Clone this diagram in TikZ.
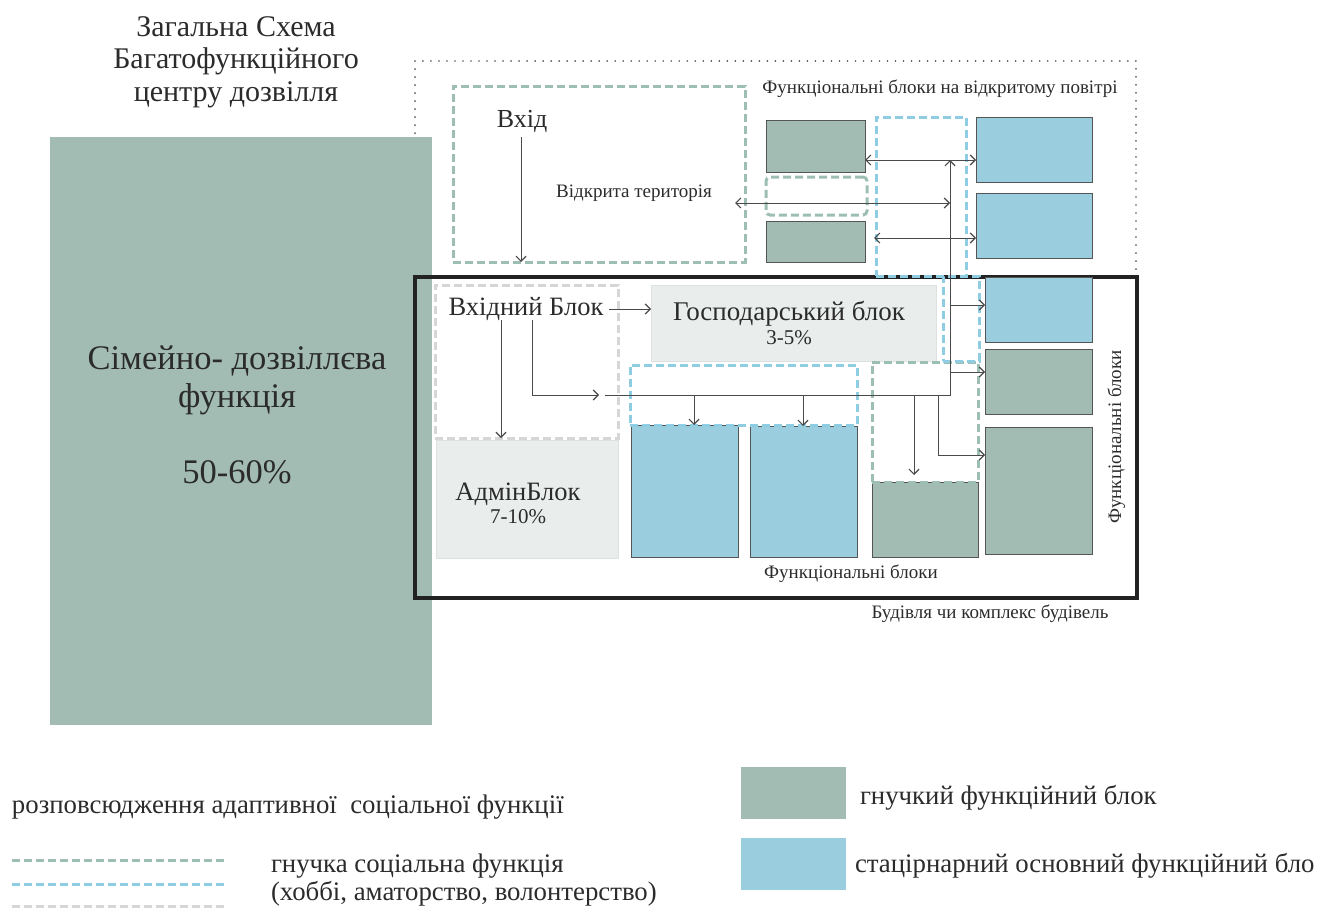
\documentclass[tikz,border=0pt]{standalone}
\usepackage{fontspec}
\setmainfont{Liberation Serif}
\usetikzlibrary{arrows.meta,calc}
\definecolor{gfill}{HTML}{A2BCB4}
\definecolor{bfill}{HTML}{9ACDDE}
\definecolor{lfill}{HTML}{E9EEEC}
\definecolor{lline}{HTML}{DDE2E0}
\definecolor{gdash}{HTML}{9DBFB3}
\definecolor{bdash}{HTML}{8ECDE2}
\definecolor{ldash}{HTML}{D6D6D6}
\definecolor{edge}{HTML}{555555}
\definecolor{dotc}{HTML}{555555}
\definecolor{bldc}{HTML}{222222}
\definecolor{txt}{HTML}{2B2B2B}
\definecolor{arrc}{HTML}{4A4A4A}
\newcommand\pxbox[6]{\node[#6, minimum width={(#4)-(#2)}, minimum height={(#5)-(#3)}] (#1) at ({((#2)+(#4))/2},{((#3)+(#5))/2}) {};}
\tikzset{
 bx/.style={rectangle, inner sep=0pt, outer sep=0pt},
 gblk/.style={bx, fill=gfill, draw=edge, line width=0.8pt},
 bblk/.style={bx, fill=bfill, draw=edge, line width=0.8pt},
 lblk/.style={bx, fill=lfill, draw=lline, line width=1pt},
 gdsh/.style={bx, draw=gdash, line width=3pt, dash pattern=on 8pt off 4pt},
 bdsh/.style={bx, draw=bdash, line width=3pt, dash pattern=on 8pt off 4pt},
 ldsh/.style={bx, draw=ldash, line width=3pt, dash pattern=on 8pt off 4pt},
 dotbox/.style={bx, draw=dotc, line width=1.8pt, dash pattern=on 0.01pt off 8pt, line cap=round},
 bldg/.style={bx, draw=bldc, line width=4.5pt},
 lbl/.style={inner sep=0pt, outer sep=0pt, text=txt, anchor=base},
 lblw/.style={lbl, anchor=base west},
 arr/.style={draw=arrc, line width=1pt, -{Straight Barb[length=5pt,width=10pt,line width=1.2pt]}},
 darr/.style={draw=arrc, line width=1pt, {Straight Barb[length=5pt,width=10pt,line width=1.2pt]}-{Straight Barb[length=5pt,width=10pt,line width=1.2pt]}},
 lgline/.style={line width=3pt, dash pattern=on 8pt off 4pt}
}
\begin{document}
\begin{tikzpicture}[x=1pt,y=-1pt]
\useasboundingbox (0,0) rectangle (1317,908);
% outer dotted area
\pxbox{outer}{415}{61}{1136}{277}{dotbox}
% big green block
\pxbox{fam}{50}{137}{432}{725}{bx, fill=gfill}
\node[lbl, align=center, font=\fontsize{30}{32.5}\selectfont] (title) at (236,101) {Загальна Схема\\Багатофункційного\\центру дозвілля};
\node[lbl, align=center, font=\fontsize{34.5}{38}\selectfont] (famtxt) at (237,483) {Сімейно- дозвіллєва\\функція\\[38pt]50-60\%};
% entrance / open territory
\pxbox{entr}{453}{86}{745}{262}{gdsh}
\node[lbl, font=\fontsize{26}{30}\selectfont] (vhid) at (522,127) {Вхід};
\node[lbl, font=\fontsize{19}{22}\selectfont] (otkr) at (634,197) {Відкрита територія};
\node[lbl, font=\fontsize{19}{22}\selectfont] (opnair) at (940,93) {Функціональні блоки на відкритому повітрі};
% outdoor blocks
\pxbox{g1}{766}{120}{865}{172}{gblk}
\pxbox{gd1}{766}{177}{867}{215}{gdsh, rounded corners=4pt}
\pxbox{g2}{766}{221}{865}{262}{gblk}
\pxbox{b1}{976}{117}{1092}{182}{bblk}
\pxbox{b2}{976}{193}{1092}{258}{bblk}
% building
\pxbox{bldg}{415}{277}{1137}{598}{bldg}
\node[lbl, font=\fontsize{19}{22}\selectfont] (bud) at (990,618) {Будівля чи комплекс будівель};
% inner blocks
\pxbox{vbox}{435}{285}{618}{438}{ldsh}
\node[lbl, font=\fontsize{26.5}{30}\selectfont] (vb) at (526,315) {Вхідний Блок};
\pxbox{gosp}{651}{285}{936}{361}{lblk}
\node[lbl, font=\fontsize{27}{30}\selectfont] (gosptxt) at (789,320) {Господарський блок};
\node[lbl, font=\fontsize{21}{24}\selectfont] (gosppct) at (789,344) {3-5\%};
\pxbox{admin}{436}{440}{618}{558}{lblk}
\node[lbl, font=\fontsize{26.5}{30}\selectfont] (admtxt) at (518,500) {АдмінБлок};
\node[lbl, font=\fontsize{21}{24}\selectfont] (admpct) at (518,523) {7-10\%};
\pxbox{bl1}{631}{425}{738}{557}{bblk}
\pxbox{bl2}{750}{426}{857}{557}{bblk}
\pxbox{bd2}{630}{365}{857}{425}{bdsh}
\pxbox{gb}{872}{482}{978}{557}{gblk}
\pxbox{gd2}{872}{362}{978}{482}{gdsh}
\pxbox{r1}{985}{277}{1092}{342}{bblk}
\pxbox{r2}{985}{349}{1092}{414}{gblk}
\pxbox{r3}{985}{427}{1092}{554}{gblk}
\pxbox{bd1}{876}{117}{966}{276}{bdsh}
\pxbox{bd3}{943}{276}{979}{361}{bdsh}
\node[lbl, font=\fontsize{19}{22}\selectfont] (fb) at (851,578) {Функціональні блоки};
\node[lbl, rotate=90, font=\fontsize{19}{22}\selectfont] (fbv) at (1121,437) {Функціональні блоки};
% connectors
\coordinate (p1) at (521,137);
\draw[arr] (p1) -- (p1 |- entr.south);
\coordinate (v1) at (609,309);
\draw[arr] (v1) -- (v1 -| gosp.west);
\coordinate (v2) at (501,320);
\draw[arr] (v2) -- (v2 |- vbox.south);
\coordinate (v3) at (532,320);
\coordinate (v4) at (599,395);
\draw[arr] (v3) |- (v4);
\coordinate (bs) at (605,395);
\coordinate (be) at (950,395);
\coordinate (ya) at (0,160);
\coordinate (yb) at (0,203);
\coordinate (yc) at (0,238);
\draw[arr] (bs) -- (be) -- (be |- ya);
\draw[darr] (g1.east |- ya) -- (b1.west |- ya);
\draw[darr] ($(entr.east |- yb)+(-10,0)$) -- (be |- yb);
\draw[darr] ($(bd1.west |- yc)+(-2,0)$) -- (b2.west |- yc);
\coordinate (d1) at (694,395);
\coordinate (d2) at (803,395);
\coordinate (d3) at (914,395);
\coordinate (d4) at (938,395);
\draw[arr] (d1) -- (d1 |- bl1.north);
\draw[arr] (d2) -- (d2 |- bl2.north);
\draw[arr] (d3) -- ($(d3 |- gb.north)+(0,-7)$);
\coordinate (yr1) at (0,305);
\coordinate (yr2) at (0,372);
\coordinate (yr3) at (0,455);
\draw[arr] (be |- yr1) -- (r1.west |- yr1);
\draw[arr] (be |- yr2) -- (r2.west |- yr2);
\draw[arr] (d4) |- (r3.west |- yr3);
% legend
\node[lblw, font=\fontsize{26.8}{30}\selectfont] (lg0) at (12,813) {розповсюдження адаптивної\ \ соціальної функції};
\draw[lgline, draw=gdash] (12,860) -- (226,860);
\draw[lgline, draw=bdash] (12,884) -- (226,884);
\draw[lgline, draw=ldash] (12,906) -- (226,906);
\node[lblw, font=\fontsize{26.8}{30}\selectfont] (lg1) at (271,872) {гнучка соціальна функція};
\node[lblw, font=\fontsize{26.8}{30}\selectfont] (lg2) at (271,900) {(хоббі, аматорство, волонтерство)};
\pxbox{lsq1}{741}{767}{846}{819}{bx, fill=gfill}
\pxbox{lsq2}{741}{838}{846}{890}{bx, fill=bfill}
\node[lblw, font=\fontsize{26.8}{30}\selectfont] (lg3) at (860,804) {гнучкий функційний блок};
\node[lblw, font=\fontsize{26.8}{30}\selectfont] (lg4) at (855,872) {стацірнарний основний функційний бло};
\end{tikzpicture}
\end{document}
